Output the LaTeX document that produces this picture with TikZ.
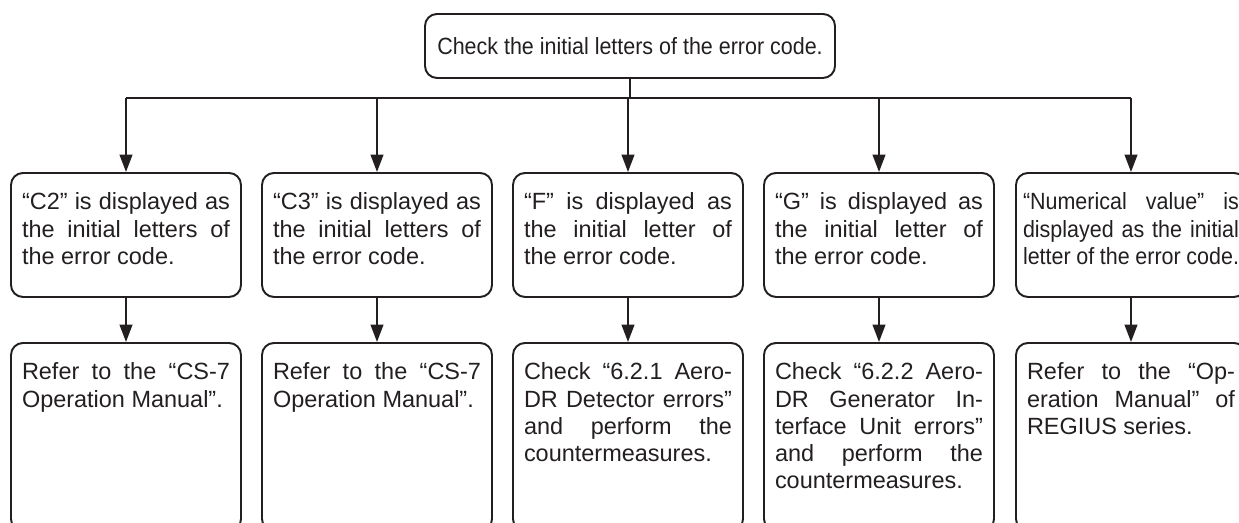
\documentclass[tikz,border=0pt]{standalone}
\usepackage{fontspec}
\setmainfont{Liberation Sans}
\newfontfamily\narrowfont[FakeStretch=0.915]{Liberation Sans}
\usetikzlibrary{arrows.meta,positioning}
\definecolor{ink}{RGB}{35,31,32}

\tikzset{
  flowbox/.style={draw=ink, line width=1.45pt, rounded corners=9pt, text=ink,
    anchor=north, inner ysep=0pt, inner xsep=8.25pt, text width=156pt,
    align=justify, font=\fontsize{17.6}{20.4}\selectfont, text height=27.75pt},
  casebox/.style={flowbox, text depth=65.25pt},
  actbox/.style={flowbox, text depth=113.25pt},
  topbox/.style={draw=ink, line width=1.45pt, rounded corners=9pt, text=ink,
    anchor=north, minimum width=307.5pt, minimum height=48pt, align=center,
    font={\narrowfont\fontsize{17.6}{20.4}\selectfont}},
  link/.style={draw=ink, line width=1.45pt},
  arr/.style={link, -{Triangle[length=13pt,width=9.5pt]}}
}

\begin{document}
\begin{tikzpicture}[x=0.75pt,y=-0.75pt]
\useasboundingbox (0,0) rectangle (1239,522);
\clip (0,0) rectangle (1239,522);

% question
\node[topbox] (check) at (630,13) {Check the initial letters of the error code.};
\coordinate (bus) at (0,98);

% first letters
\node[casebox] (c2) at (126,172) {“C2” is displayed as\linebreak the initial letters of\linebreak the error code.};
\node[casebox] (c3) at (377,172) {“C3” is displayed as\linebreak the initial letters of\linebreak the error code.};
\node[casebox] (f) at (628,172) {“F” is displayed as\linebreak the initial letter of\linebreak the error code.};
\node[casebox] (g) at (879,172) {“G” is displayed as\linebreak the initial letter of\linebreak the error code.};
\node[casebox, text width=162pt, inner xsep=5.25pt,
  font={\narrowfont\fontsize{17.6}{20.4}\selectfont}] (num) at (1131,172)
  {“Numerical value” is\linebreak displayed as the initial\linebreak letter of the error code.};

% what to do
\node[actbox] (c2act) at (126,342) {Refer to the “CS-7\linebreak Operation Manual”.};
\node[actbox] (c3act) at (377,342) {Refer to the “CS-7\linebreak Operation Manual”.};
\node[actbox] (fact) at (628,342) {Check “6.2.1 Aero-\linebreak DR Detector errors”\linebreak and perform the\linebreak countermeasures.};
\node[actbox] (gact) at (879,342) {Check “6.2.2 Aero-\linebreak DR Generator In-\linebreak terface Unit errors”\linebreak and perform the\linebreak countermeasures.};
\node[actbox] (numact) at (1131,342) {Refer to the “Op-\linebreak eration Manual” of\linebreak REGIUS series.};

% connectors
\draw[link] (check.south) -- (check.south |- bus);
\draw[link] (c2.north |- bus) -- (num.north |- bus);
\draw[arr] (c2.north |- bus) -- (c2.north);
\draw[arr] (c3.north |- bus) -- (c3.north);
\draw[arr] (f.north |- bus) -- (f.north);
\draw[arr] (g.north |- bus) -- (g.north);
\draw[arr] (num.north |- bus) -- (num.north);
\draw[arr] (c2.south) -- (c2act.north);
\draw[arr] (c3.south) -- (c3act.north);
\draw[arr] (f.south) -- (fact.north);
\draw[arr] (g.south) -- (gact.north);
\draw[arr] (num.south) -- (numact.north);
\end{tikzpicture}
\end{document}
